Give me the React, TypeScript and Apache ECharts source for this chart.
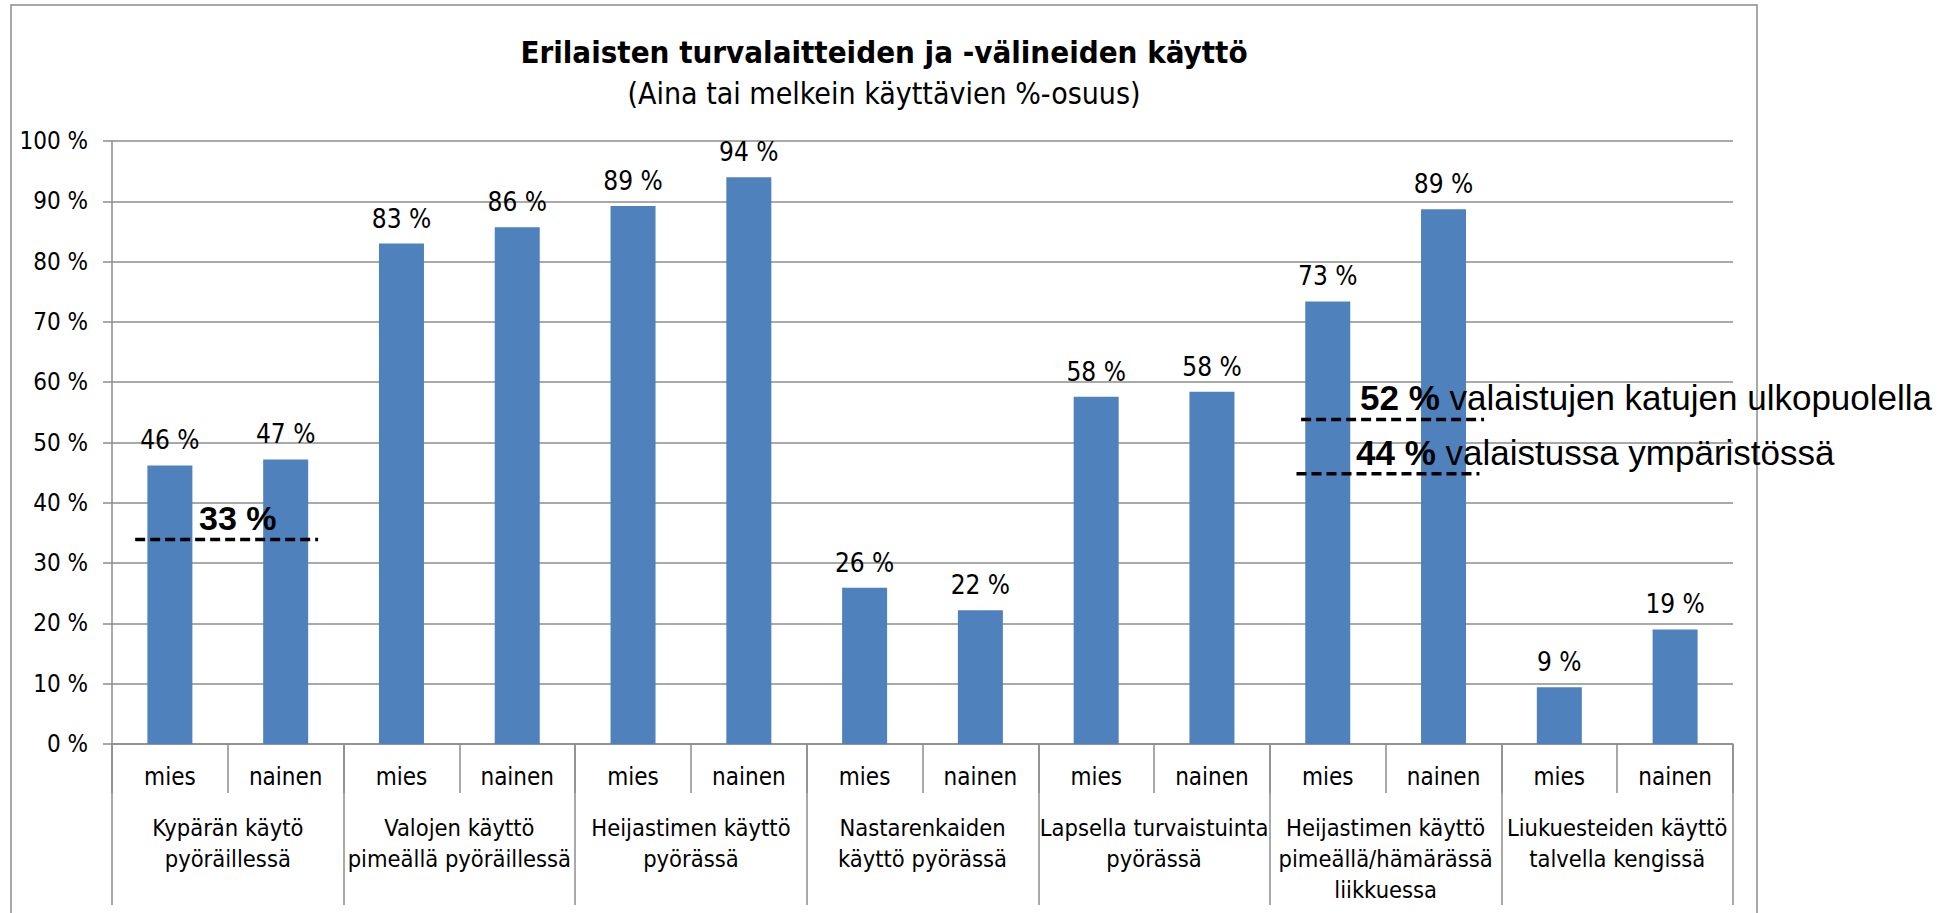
import React, { useEffect, useRef } from "react";
import * as echarts from "echarts";

const groups = [
  "Kypärän käytö\npyöräillessä",
  "Valojen käyttö\npimeällä pyöräillessä",
  "Heijastimen käyttö\npyörässä",
  "Nastarenkaiden\nkäyttö pyörässä",
  "Lapsella turvaistuinta\npyörässä",
  "Heijastimen käyttö\npimeällä/hämärässä\nliikkuessa",
  "Liukuesteiden käyttö\ntalvella kengissä",
];
const genders = ["mies", "nainen"];
const values = [46.2, 47.2, 83.0, 85.7, 89.2, 94.0, 25.9, 22.2, 57.6, 58.4, 73.4, 88.7, 9.4, 19.0];

const refValues = [33.9, 53.8, 44.8];
const refFrom = [0.2, 10.27, 10.23];
const refTo = [1.78, 11.85, 11.81];
const refBold = ["33 %", "52 %", "44 %"];
const refRest = ["", " valaistujen katujen ulkopuolella", " valaistussa ympäristössä"];

const titleText = "Erilaisten turvalaitteiden ja -välineiden käyttö";
const subtitleText = "(Aina tai melkein käyttävien %-osuus)";

const CAL = "'Liberation Sans Narrow', 'DejaVu Sans Condensed', 'Open Sans', sans-serif";
const ARIAL = "'Liberation Sans', Arial, sans-serif";
const GRAY = "#8c8c8c";

export default function App() {
  const ref = useRef<HTMLDivElement>(null);
  useEffect(() => {
    if (!ref.current) return;
    const chart = echarts.init(ref.current, null, { renderer: "svg" });
    const cats = groups.flatMap(() => genders);
    const refPos = [
      { x: 199, y: 518, size: 34 },
      { x: 1360, y: 397, size: 35 },
      { x: 1356, y: 452, size: 35 },
    ];
    chart.setOption({
      animation: false,
      backgroundColor: "#fff",
      grid: { left: 112, top: 141, width: 1621, height: 603, containLabel: false },
      xAxis: [
        {
          type: "category",
          data: cats,
          position: "bottom",
          axisLine: { show: true, lineStyle: { color: GRAY, width: 1.5 } },
          axisTick: { show: true, interval: 0, length: 49, lineStyle: { color: GRAY, width: 1.5 } },
          axisLabel: { interval: 0, margin: 21, fontSize: 24, color: "#000", fontFamily: CAL },
        },
        {
          type: "category",
          data: groups,
          position: "bottom",
          axisLine: { show: false },
          axisTick: { show: true, interval: 0, length: 161, lineStyle: { color: GRAY, width: 1.5 } },
          axisLabel: { interval: 0, margin: 68, fontSize: 23.5, lineHeight: 31, color: "#000", fontFamily: CAL, align: "center" },
        },
        { type: "value", min: 0, max: 14, show: false },
      ],
      yAxis: {
        type: "value",
        min: 0,
        max: 100,
        interval: 10,
        axisLine: { show: true, lineStyle: { color: GRAY, width: 1.5 } },
        axisTick: { show: true, length: 9, lineStyle: { color: GRAY, width: 1.5 } },
        axisLabel: { formatter: "{value} %", margin: 24, fontSize: 24, color: "#000", fontFamily: CAL },
        splitLine: { show: true, lineStyle: { color: GRAY, width: 1.5 } },
      },
      series: [
        {
          type: "bar",
          xAxisIndex: 0,
          data: values,
          barWidth: 45,
          itemStyle: { color: "#4f81bd" },
          label: {
            show: true,
            position: "top",
            distance: 12,
            formatter: (p: any) => Math.round(p.value) + " %",
            fontSize: 26,
            color: "#000",
            fontFamily: CAL,
          },
          silent: true,
        },
        ...refValues.map((v, i) => ({
          type: "line",
          xAxisIndex: 2,
          data: [
            [refFrom[i], v],
            [refTo[i], v],
          ],
          symbol: "none",
          silent: true,
          z: 5,
          lineStyle: { color: "#000", width: 3.5, type: [10, 5] },
        })),
      ],
      graphic: [
        {
          type: "rect",
          shape: { x: 11, y: 5, width: 1746, height: 1000 },
          style: { fill: "none", stroke: GRAY, lineWidth: 1.5 },
          z: -10,
          silent: true,
        },
        {
          type: "text",
          x: 884,
          y: 52,
          style: {
            text: titleText,
            font: `bold 31px ${CAL}`,
            fill: "#000",
            textAlign: "center",
            textVerticalAlign: "middle",
          },
        },
        {
          type: "text",
          x: 884,
          y: 93,
          style: {
            text: subtitleText,
            font: `30px ${CAL}`,
            fill: "#000",
            textAlign: "center",
            textVerticalAlign: "middle",
          },
        },
        ...refBold.map((b, i) => ({
          type: "text",
          x: refPos[i].x,
          y: refPos[i].y,
          z: 100,
          style: {
            text: `{b|${b}}` + (refRest[i] ? `{r|${refRest[i]}}` : ""),
            textAlign: "left",
            textVerticalAlign: "middle",
            rich: {
              b: { fontFamily: ARIAL, fontWeight: "bold", fontSize: refPos[i].size, fill: "#000", color: "#000" },
              r: { fontFamily: ARIAL, fontWeight: "normal", fontSize: refPos[i].size, fill: "#000", color: "#000" },
            },
          },
        })),
      ],
    });
    return () => chart.dispose();
  }, []);
  return (
    <div
      ref={ref}
      style={{ position: "fixed", left: 0, top: 0, width: 1955, height: 913 }}
    />
  );
}
